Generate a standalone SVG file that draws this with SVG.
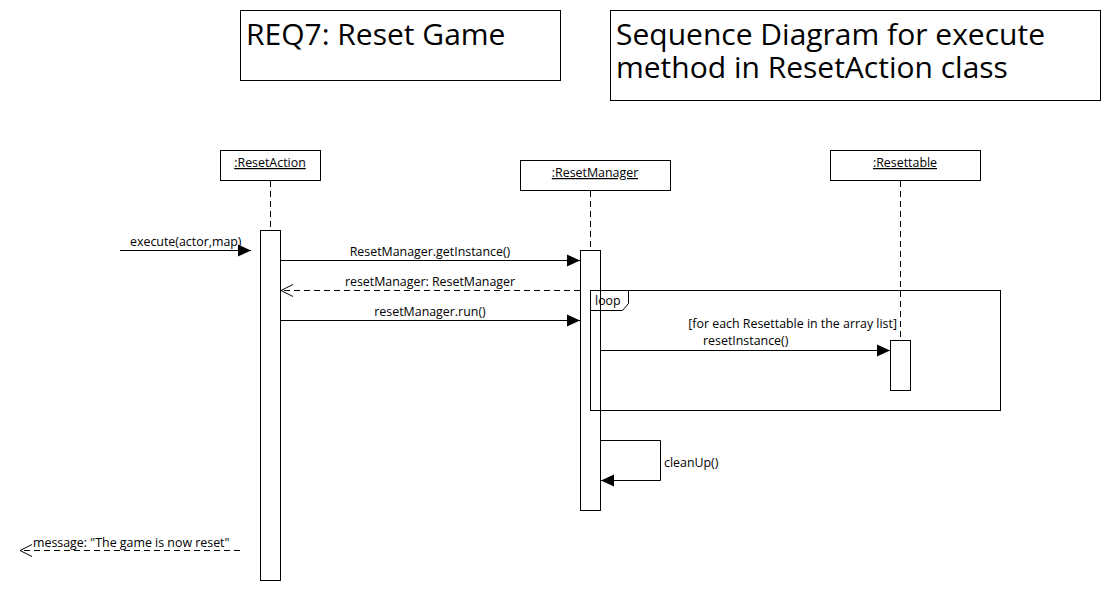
<svg xmlns="http://www.w3.org/2000/svg" width="1110" height="590" viewBox="0 0 1110 590">
<style>
.box{fill:#fff;stroke:#000;stroke-width:1}
.ll{stroke:#000;stroke-width:1;stroke-dasharray:6,4;fill:none}
.msg{stroke:#000;stroke-width:1;fill:none}
.ret{stroke:#000;stroke-width:1;fill:none;stroke-dasharray:6,4}
.t{font-family:"Open Sans","Noto Sans","DejaVu Sans",sans-serif;font-size:12.4px;fill:#000}
.title{font-family:"Open Sans","Noto Sans","DejaVu Sans",sans-serif;font-size:30px;fill:#000}
.u{text-decoration:underline}
</style>
<defs>
<marker id="fill" markerWidth="14" markerHeight="14" refX="13" refY="7" orient="auto" markerUnits="userSpaceOnUse">
<path d="M0,1 L13,7 L0,13 Z" fill="#000"/>
</marker>
<marker id="open" markerWidth="14" markerHeight="14" refX="12" refY="7" orient="auto" markerUnits="userSpaceOnUse">
<path d="M0,1 L12,7 L0,13" fill="none" stroke="#000" stroke-width="1"/>
</marker>
</defs>
<rect width="1110" height="590" fill="#fff"/>
<g id="title1">
<rect class="box" x="240.5" y="10.5" width="320" height="70"/>
<text class="title" x="246" y="45">REQ7: Reset Game</text>
</g>
<g id="title2">
<rect class="box" x="610.5" y="10.5" width="490" height="90"/>
<text class="title" x="616" y="45">Sequence Diagram for execute<tspan x="616" y="78">method in ResetAction class</tspan></text>
</g>
<g id="resetAction">
<rect class="box" x="220.5" y="150.5" width="100" height="30"/>
<text class="t u" x="270" y="167" text-anchor="middle">:ResetAction</text>
<line class="ll" x1="270.5" y1="181" x2="270.5" y2="230"/>
<rect class="box" x="260.5" y="230.5" width="20" height="350"/>
</g>
<g id="resetManager">
<rect class="box" x="520.5" y="160.5" width="150" height="30"/>
<text class="t u" x="595" y="177" text-anchor="middle">:ResetManager</text>
<line class="ll" x1="590.5" y1="191" x2="590.5" y2="250"/>
<rect class="box" x="580.5" y="250.5" width="20" height="260"/>
</g>
<g id="resettable">
<rect class="box" x="830.5" y="150.5" width="150" height="30"/>
<text class="t u" x="905" y="167" text-anchor="middle">:Resettable</text>
<line class="ll" x1="900.5" y1="181" x2="900.5" y2="340"/>
<rect class="box" x="890.5" y="340.5" width="20" height="50"/>
</g>
<g id="loop">
<rect x="590.5" y="290.5" width="410" height="120" fill="none" stroke="#000" stroke-width="1"/>
<path d="M590.5,310.5 L622.5,310.5 L628.5,303.5 L628.5,290.5" fill="none" stroke="#000" stroke-width="1"/>
<text class="t" x="595" y="305">loop</text>
<text class="t" x="897" y="328" text-anchor="end">[for each Resettable in the array list]</text>
</g>
<g id="connectors">
<line class="msg" x1="120" y1="250.5" x2="251" y2="250.5" marker-end="url(#fill)"/>
<text class="t" x="130" y="246">execute(actor,map)</text>
<line class="msg" x1="281" y1="260.5" x2="580" y2="260.5" marker-end="url(#fill)"/>
<text class="t" x="430" y="256" text-anchor="middle">ResetManager.getInstance()</text>
<line class="ret" x1="580" y1="290.5" x2="281" y2="290.5" marker-end="url(#open)"/>
<text class="t" x="430" y="286" text-anchor="middle">resetManager: ResetManager</text>
<line class="msg" x1="281" y1="320.5" x2="580" y2="320.5" marker-end="url(#fill)"/>
<text class="t" x="430" y="316" text-anchor="middle">resetManager.run()</text>
<line class="msg" x1="601" y1="350.5" x2="890" y2="350.5" marker-end="url(#fill)"/>
<text class="t" x="703" y="345">resetInstance()</text>
<polyline class="msg" points="601,440.5 660.5,440.5 660.5,480.5 601,480.5" marker-end="url(#fill)"/>
<text class="t" x="664" y="467">cleanUp()</text>
<line class="ret" x1="240" y1="550.5" x2="20" y2="550.5" marker-end="url(#open)"/>
<text class="t" x="33" y="547">message: "The game is now reset"</text>
</g>
</svg>
